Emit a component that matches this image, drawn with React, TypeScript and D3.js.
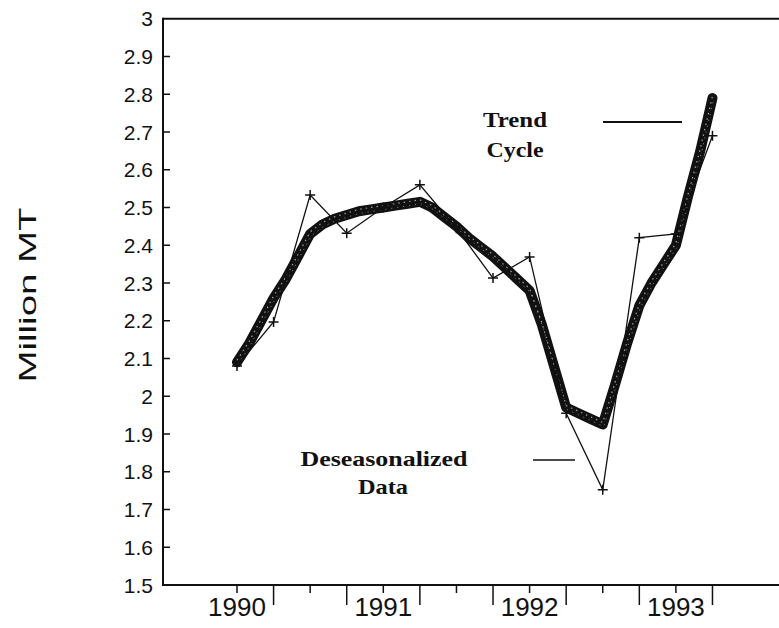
import React from 'react';
import * as d3 from 'd3';

// ---- data ----
const yearLabels = [1990, 1991, 1992, 1993];
const quarterTicks = [1990, 1990.25, 1990.5, 1990.75, 1991, 1991.25, 1991.5, 1991.75, 1992, 1992.25, 1992.5, 1992.75, 1993, 1993.25];
const yTickValues = [1.5, 1.6, 1.7, 1.8, 1.9, 2, 2.1, 2.2, 2.3, 2.4, 2.5, 2.6, 2.7, 2.8, 2.9, 3];

// Trend-cycle, monthly from Jan 1990
const trendStart = 1990;
const trendValues = [
  2.09, 2.14, 2.2, 2.26, 2.31, 2.37, 2.43, 2.455, 2.47, 2.48, 2.49, 2.495,
  2.5, 2.505, 2.51, 2.515, 2.5, 2.475, 2.45, 2.42, 2.395, 2.37, 2.34, 2.31,
  2.28, 2.19, 2.08, 1.97, 1.955, 1.94, 1.925, 2.03, 2.14, 2.24, 2.3, 2.35,
  2.4, 2.53, 2.65, 2.79,
];

// Deseasonalized data, quarterly from 1990 Q1
const deseasStart = 1990;
const deseasValues = [
  2.08, 2.197, 2.533, 2.432, 2.5, 2.56, 2.445, 2.313, 2.369, 1.955, 1.752, 2.42, 2.43, 2.69,
];

const W = 779;
const H = 628;
const axisX = 163;
const axisBottom = 585;
const rightEdge = 779;

export default function App() {
  const x = d3.scaleLinear().domain([1990, 1994]).range([237, 237 + 4 * 146.3]);
  const y = d3.scaleLinear().domain([1.5, 3]).range([axisBottom, 18.75]);

  const trendPts = trendValues.map((v, i) => [trendStart + i / 12, v] as [number, number]);
  const deseasPts = deseasValues.map((v, i) => [deseasStart + i / 4, v] as [number, number]);

  const line = d3
    .line<[number, number]>()
    .x((d) => x(d[0]))
    .y((d) => y(d[1]));

  const tickFont = "'Liberation Sans', Arial, sans-serif";
  const serif = "'Liberation Serif', 'Times New Roman', serif";
  const trendD = line(trendPts) || '';

  return (
    <svg
      width={W}
      height={H}
      viewBox={`0 0 ${W} ${H}`}
      style={{ position: 'absolute', left: 0, top: 0, background: '#fff' }}
    >
      <rect x={0} y={0} width={W} height={H} fill="#fff" />

      {/* frame */}
      <line x1={axisX} y1={y(3)} x2={rightEdge} y2={y(3)} stroke="#111" strokeWidth={2} />
      <line x1={axisX} y1={axisBottom} x2={rightEdge} y2={axisBottom} stroke="#111" strokeWidth={2} />
      <line x1={axisX} y1={y(3) - 1} x2={axisX} y2={axisBottom + 1} stroke="#111" strokeWidth={2} />

      {/* y ticks */}
      {yTickValues.map((v) => (
        <g key={v}>
          {v > 1.5 && v < 3 && (
            <line x1={axisX} x2={axisX + 7} y1={y(v)} y2={y(v)} stroke="#111" strokeWidth={1.5} />
          )}
          <text
            x={153}
            y={y(v)}
            textAnchor="end"
            dominantBaseline="central"
            fontFamily={tickFont}
            fontSize={21}
            fill="#111"
          >
            {d3.format('~g')(v)}
          </text>
        </g>
      ))}

      {/* x ticks */}
      {quarterTicks.map((t, i) => (
        <line
          key={t}
          x1={x(t)}
          x2={x(t)}
          y1={axisBottom}
          y2={axisBottom + (i % 2 === 1 ? 20 : 8)}
          stroke="#111"
          strokeWidth={1.5}
        />
      ))}
      {yearLabels.map((yr) => (
        <text
          key={yr}
          x={x(yr)}
          y={616}
          textAnchor="middle"
          fontFamily={tickFont}
          fontSize={26}
          fill="#111"
        >
          {yr}
        </text>
      ))}

      {/* y axis title */}
      <text
        transform="translate(36,295) rotate(-90)"
        textAnchor="middle"
        fontFamily={tickFont}
        fontSize={24}
        textLength={175}
        lengthAdjust="spacingAndGlyphs"
        fill="#111"
      >
        Million MT
      </text>

      {/* trend-cycle (thick band of overlapping markers) */}
      <path d={trendD} fill="none" stroke="#111" strokeWidth={10} strokeLinejoin="round" strokeLinecap="round" />
      <path
        d={trendD}
        fill="none"
        stroke="#fff"
        strokeWidth={1.2}
        strokeDasharray="1.5 4"
        opacity={0.6}
        transform="translate(0,-2)"
      />
      <path
        d={trendD}
        fill="none"
        stroke="#fff"
        strokeWidth={1}
        strokeDasharray="1 5"
        opacity={0.5}
        transform="translate(1,2)"
      />

      {/* deseasonalized data */}
      <path d={line(deseasPts) || ''} fill="none" stroke="#111" strokeWidth={1.3} />
      {deseasPts.map((d, i) => (
        <path
          key={i}
          transform={`translate(${x(d[0])},${y(d[1])})`}
          d="M-5,0H5M0,-5V5"
          stroke="#111"
          strokeWidth={1.5}
        />
      ))}

      {/* annotations */}
      <text x={515} y={127} textAnchor="middle" fontFamily={serif} fontWeight="bold" fontSize={20} textLength={64} lengthAdjust="spacingAndGlyphs" fill="#111">
        Trend
      </text>
      <text x={515} y={157} textAnchor="middle" fontFamily={serif} fontWeight="bold" fontSize={20} textLength={57} lengthAdjust="spacingAndGlyphs" fill="#111">
        Cycle
      </text>
      <line x1={603} x2={682} y1={122} y2={122} stroke="#111" strokeWidth={2.2} />

      <text x={384} y={466} textAnchor="middle" fontFamily={serif} fontWeight="bold" fontSize={21} textLength={167} lengthAdjust="spacingAndGlyphs" fill="#111">
        Deseasonalized
      </text>
      <text x={383} y={494} textAnchor="middle" fontFamily={serif} fontWeight="bold" fontSize={21} textLength={50} lengthAdjust="spacingAndGlyphs" fill="#111">
        Data
      </text>
      <line x1={533} x2={575} y1={460} y2={460} stroke="#111" strokeWidth={1.5} />
    </svg>
  );
}
